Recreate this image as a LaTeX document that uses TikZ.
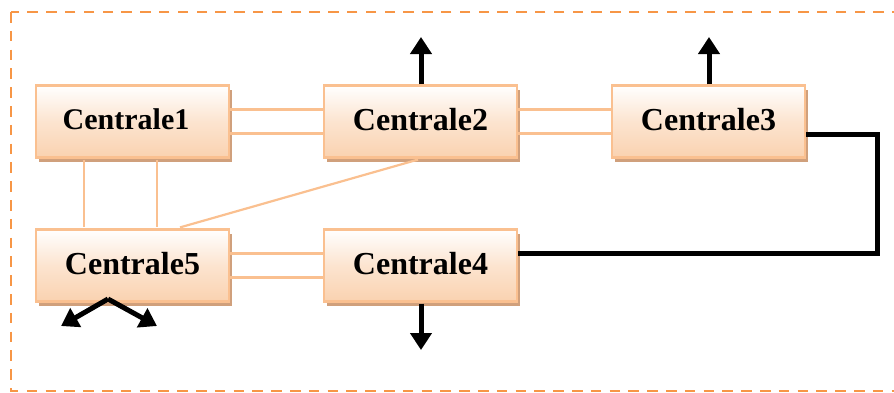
\documentclass[tikz,border=0pt]{standalone}
\usepackage{fontspec}
\setmainfont{Liberation Serif}
\usetikzlibrary{arrows.meta,shadows}
\definecolor{frameorange}{HTML}{F79646}
\definecolor{linkpeach}{HTML}{FAC090}
\definecolor{boxpeach}{HTML}{FAD2B0}
\definecolor{shadowtan}{HTML}{D0A07C}
\tikzset{
  plant/.style={draw=linkpeach, line width=2.2pt, minimum width=193pt, minimum height=72pt,
    top color=white, bottom color=boxpeach, middle color=boxpeach!60,
    general shadow={fill=shadowtan, shadow xshift=3pt, shadow yshift=-4pt},
    font=\fontsize{32}{33}\selectfont\bfseries, inner sep=0pt},
  link/.style={draw=linkpeach, line width=2.2pt},
  power/.style={draw=black, line width=5pt},
  outflow/.style={power, -{Triangle[length=17pt,width=21pt]}},
}
\begin{document}
\begin{tikzpicture}[x=1pt,y=-1pt]
\useasboundingbox (0,0) rectangle (894,392);
% dashed enclosure (runs past the right edge)
\draw[frameorange, line width=2.6pt, dash pattern=on 10.5pt off 8.3pt] (11,12) rectangle (905,391);

\coordinate (p1) at (132.5,121.5);
\coordinate (p2) at (420.5,121.5);
\coordinate (p3) at (708.5,121.5);
\coordinate (p5) at (132.5,265.5);
\coordinate (p4) at (420.5,265.5);

% plants
\node[plant] (c1) at (p1) {\raisebox{5pt}{\fontsize{30}{31}\selectfont Centrale1\hspace{13pt}}};
\node[plant] (c2) at (p2) {\raisebox{5pt}{Centrale2}};
\node[plant] (c3) at (p3) {\raisebox{5pt}{Centrale3}};
\node[plant] (c5) at (p5) {\raisebox{4pt}{Centrale5}};
\node[plant] (c4) at (p4) {\raisebox{4pt}{Centrale4}};

% double links and cross links
\draw[link] ([yshift=12pt]c1.east) -- ([yshift=12pt]c2.west);
\draw[link] ([yshift=-12pt]c1.east) -- ([yshift=-12pt]c2.west);
\draw[link] ([yshift=12pt]c2.east) -- ([yshift=12pt]c3.west);
\draw[link] ([yshift=-12pt]c2.east) -- ([yshift=-12pt]c3.west);
\draw[link] ([yshift=12pt]c5.east) -- ([yshift=12pt]c4.west);
\draw[link] ([yshift=-12pt]c5.east) -- ([yshift=-12pt]c4.west);
\draw[link] ([xshift=-48.5pt,yshift=-1pt]c1.south) -- ([xshift=-48.5pt,yshift=1pt]c5.north);
\draw[link] ([xshift=24.5pt,yshift=-1pt]c1.south) -- ([xshift=24.5pt,yshift=1pt]c5.north);
\draw[link] ([xshift=47.5pt,yshift=1pt]c5.north) -- ([xshift=-2.5pt,yshift=-1pt]c2.south);

% heavy line between Centrale3 and Centrale4
\coordinate (bendtop) at (877,134);
\coordinate (bendbot) at (877,253);
\draw[power] ([yshift=-12.5pt]c3.east) -- (bendtop) -- (bendbot) -- ([yshift=12.5pt]c4.west -| c4.east);

% outgoing arrows
\coordinate (o2) at (421,37);
\coordinate (o3) at (709,37);
\coordinate (o4) at (421,350);
\coordinate (o5a) at (61,326);
\coordinate (o5b) at (157,326);
\draw[outflow] (c2.north -| o2) -- (o2);
\draw[outflow] (c3.north -| o3) -- (o3);
\draw[outflow] ([yshift=-1pt]c4.south -| o4) -- (o4);
\coordinate (s5) at (108,299);
\draw[outflow] (s5) -- (o5a);
\draw[outflow] (s5) -- (o5b);
\end{tikzpicture}
\end{document}
